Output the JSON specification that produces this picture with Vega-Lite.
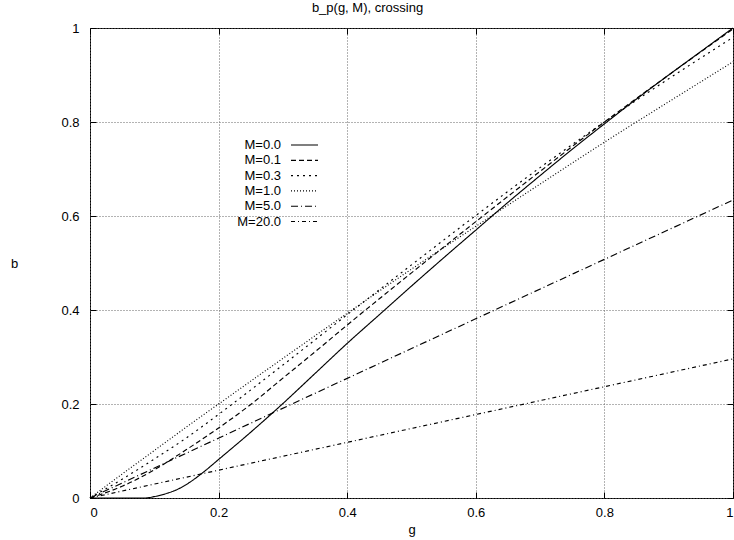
{
  "$schema": "https://vega.github.io/schema/vega-lite/v6.json",
  "width": 643,
  "height": 470,
  "autosize": {"type": "none"},
  "padding": {"left": 90, "top": 28, "right": 1, "bottom": 42},
  "background": "white",
  "title": {"text": "b_p(g, M), crossing", "font": "Liberation Sans", "fontSize": 13, "fontWeight": "normal", "offset": 7, "dx": -44, "color": "black"},
  "config": {
    "view": {"stroke": "black", "strokeWidth": 1},
    "font": "Liberation Sans",
    "axis": {"labelFont": "Liberation Sans", "labelFontSize": 13, "labelColor": "black", "titleFont": "Liberation Sans", "titleFontSize": 13, "titleFontWeight": "normal", "titleColor": "black", "grid": true, "gridDash": [1, 2], "gridColor": "#666", "gridOpacity": 1, "domain": false, "tickColor": "black", "tickSize": -6, "tickWidth": 1}
  },
  "data": {"values": [
    {"g": 0, "b": 0, "M": "M=0.0"}, {"g": 0.05, "b": 0, "M": "M=0.0"}, {"g": 0.086, "b": 0, "M": "M=0.0"}, {"g": 0.1, "b": 0.003, "M": "M=0.0"}, {"g": 0.12, "b": 0.01, "M": "M=0.0"}, {"g": 0.14, "b": 0.021, "M": "M=0.0"}, {"g": 0.16, "b": 0.038, "M": "M=0.0"}, {"g": 0.18, "b": 0.059, "M": "M=0.0"}, {"g": 0.2, "b": 0.082, "M": "M=0.0"}, {"g": 0.25, "b": 0.14, "M": "M=0.0"}, {"g": 0.3, "b": 0.201, "M": "M=0.0"}, {"g": 0.35, "b": 0.265, "M": "M=0.0"}, {"g": 0.4, "b": 0.329, "M": "M=0.0"}, {"g": 0.45, "b": 0.39, "M": "M=0.0"}, {"g": 0.5, "b": 0.451, "M": "M=0.0"}, {"g": 0.55, "b": 0.511, "M": "M=0.0"}, {"g": 0.6, "b": 0.57, "M": "M=0.0"}, {"g": 0.65, "b": 0.629, "M": "M=0.0"}, {"g": 0.7, "b": 0.686, "M": "M=0.0"}, {"g": 0.75, "b": 0.742, "M": "M=0.0"}, {"g": 0.8, "b": 0.796, "M": "M=0.0"}, {"g": 0.85, "b": 0.849, "M": "M=0.0"}, {"g": 0.9, "b": 0.9, "M": "M=0.0"}, {"g": 0.95, "b": 0.95, "M": "M=0.0"}, {"g": 1.0, "b": 1.0, "M": "M=0.0"},
    {"g": 0, "b": 0, "M": "M=0.1"}, {"g": 0.05, "b": 0.025, "M": "M=0.1"}, {"g": 0.1, "b": 0.06, "M": "M=0.1"}, {"g": 0.15, "b": 0.103, "M": "M=0.1"}, {"g": 0.2, "b": 0.149, "M": "M=0.1"}, {"g": 0.25, "b": 0.199, "M": "M=0.1"}, {"g": 0.3, "b": 0.255, "M": "M=0.1"}, {"g": 0.35, "b": 0.311, "M": "M=0.1"}, {"g": 0.4, "b": 0.368, "M": "M=0.1"}, {"g": 0.5, "b": 0.479, "M": "M=0.1"}, {"g": 0.6, "b": 0.588, "M": "M=0.1"}, {"g": 0.7, "b": 0.695, "M": "M=0.1"}, {"g": 0.8, "b": 0.8, "M": "M=0.1"}, {"g": 0.9, "b": 0.9, "M": "M=0.1"}, {"g": 1.0, "b": 0.998, "M": "M=0.1"},
    {"g": 0, "b": 0, "M": "M=0.3"}, {"g": 0.05, "b": 0.04, "M": "M=0.3"}, {"g": 0.1, "b": 0.083, "M": "M=0.3"}, {"g": 0.15, "b": 0.128, "M": "M=0.3"}, {"g": 0.2, "b": 0.178, "M": "M=0.3"}, {"g": 0.3, "b": 0.283, "M": "M=0.3"}, {"g": 0.4, "b": 0.39, "M": "M=0.3"}, {"g": 0.5, "b": 0.496, "M": "M=0.3"}, {"g": 0.6, "b": 0.601, "M": "M=0.3"}, {"g": 0.7, "b": 0.703, "M": "M=0.3"}, {"g": 0.8, "b": 0.8, "M": "M=0.3"}, {"g": 0.9, "b": 0.892, "M": "M=0.3"}, {"g": 1.0, "b": 0.98, "M": "M=0.3"},
    {"g": 0, "b": 0, "M": "M=1.0"}, {"g": 0.05, "b": 0.051, "M": "M=1.0"}, {"g": 0.1, "b": 0.101, "M": "M=1.0"}, {"g": 0.15, "b": 0.151, "M": "M=1.0"}, {"g": 0.2, "b": 0.2, "M": "M=1.0"}, {"g": 0.3, "b": 0.297, "M": "M=1.0"}, {"g": 0.4, "b": 0.393, "M": "M=1.0"}, {"g": 0.5, "b": 0.487, "M": "M=1.0"}, {"g": 0.6, "b": 0.578, "M": "M=1.0"}, {"g": 0.7, "b": 0.668, "M": "M=1.0"}, {"g": 0.8, "b": 0.757, "M": "M=1.0"}, {"g": 0.9, "b": 0.843, "M": "M=1.0"}, {"g": 1.0, "b": 0.928, "M": "M=1.0"},
    {"g": 0, "b": 0, "M": "M=5.0"}, {"g": 0.5, "b": 0.318, "M": "M=5.0"}, {"g": 1.0, "b": 0.634, "M": "M=5.0"},
    {"g": 0, "b": 0, "M": "M=20.0"}, {"g": 0.5, "b": 0.148, "M": "M=20.0"}, {"g": 1.0, "b": 0.296, "M": "M=20.0"}
  ]},
  "layer": [
    {
      "mark": {"type": "line", "color": "black", "strokeWidth": 1.15, "interpolate": "monotone"},
      "encoding": {
        "x": {"field": "g", "type": "quantitative", "scale": {"domain": [0, 1], "nice": false, "zero": false}, "axis": {"orient": "bottom", "values": [0, 0.2, 0.4, 0.6, 0.8, 1], "format": "~g", "title": "g", "labelPadding": 14, "titlePadding": 4}},
        "y": {"field": "b", "type": "quantitative", "scale": {"domain": [0, 1], "nice": false, "zero": false}, "axis": {"orient": "left", "values": [0, 0.2, 0.4, 0.6, 0.8, 1], "format": "~g", "title": "b", "labelPadding": 17, "titleAngle": 0, "titleX": -76, "titleY": 235, "titleAlign": "center", "titleBaseline": "middle"}},
        "strokeDash": {"field": "M", "type": "nominal", "sort": ["M=0.0", "M=0.1", "M=0.3", "M=1.0", "M=5.0", "M=20.0"],
          "scale": {"domain": ["M=0.0", "M=0.1", "M=0.3", "M=1.0", "M=5.0", "M=20.0"], "range": [[1, 0], [5, 3], [2, 4], [1, 2], [7, 3, 1, 3], [4, 3, 1, 3]]},
          "legend": {"orient": "none", "legendX": 208, "legendY": 110.5, "title": null, "padding": 0, "labelAlign": "right", "labelOffset": -30, "labelFont": "Liberation Sans", "labelFontSize": 13, "labelColor": "black", "symbolType": "M-10,0H10", "symbolSize": 7.29, "symbolStrokeWidth": 1.15, "symbolStrokeColor": "black", "symbolOpacity": 1, "rowPadding": 1.3}}
      }
    },
    {
      "mark": {"type": "point", "size": 0, "strokeOpacity": 0, "fillOpacity": 0},
      "encoding": {
        "x": {"field": "g", "type": "quantitative", "axis": {"orient": "top", "values": [0, 0.2, 0.4, 0.6, 0.8, 1], "labels": false, "grid": false, "title": null}},
        "y": {"field": "b", "type": "quantitative", "axis": {"orient": "right", "values": [0, 0.2, 0.4, 0.6, 0.8, 1], "labels": false, "grid": false, "title": null}}
      }
    }
  ],
  "resolve": {"axis": {"x": "independent", "y": "independent"}}
}
